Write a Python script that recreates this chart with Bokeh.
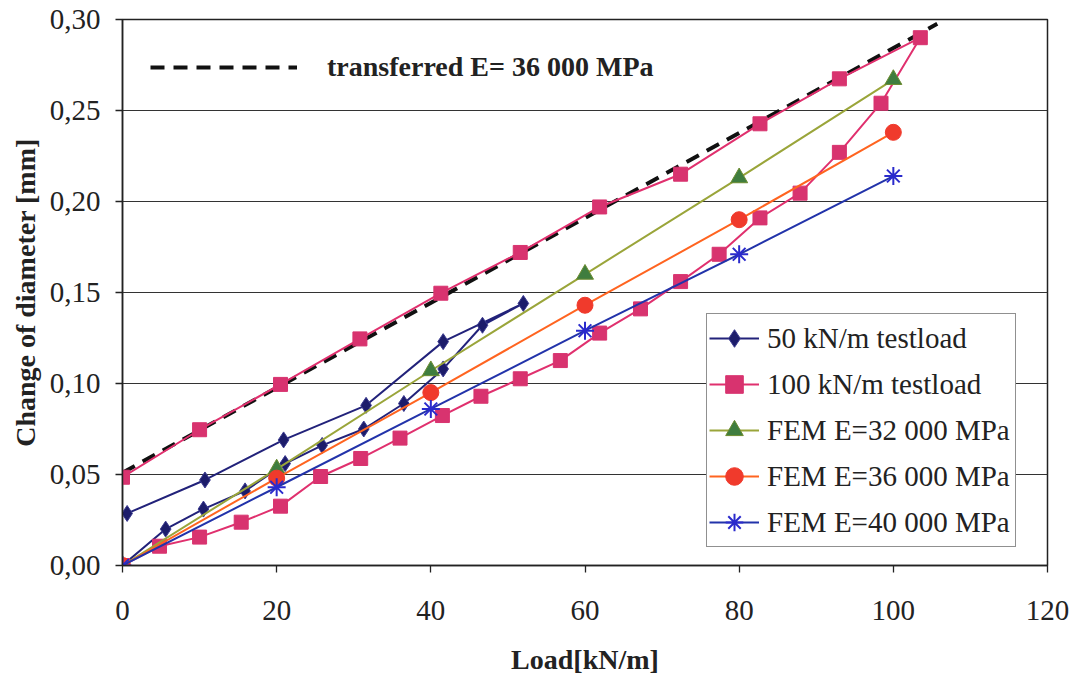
from bokeh.plotting import figure
from bokeh.models import (FixedTicker, CustomJSTickFormatter,
                          Legend, LegendItem, Range1d)
from bokeh.embed import file_html
from bokeh.resources import INLINE

# ---------------- data ----------------
t50_load = [0, 5.6, 10.5, 15.9, 21.1, 25.9, 31.3, 36.5, 41.6, 46.7, 52.0,
            41.6, 31.6, 20.9, 10.7, 0.6]
t50_diam = [0.000, 0.020, 0.031, 0.041, 0.056, 0.066, 0.075, 0.089, 0.108, 0.132, 0.144,
            0.123, 0.088, 0.069, 0.047, 0.0286]

t100_load = [0, 4.8, 10.0, 15.4, 20.5, 25.7, 30.9, 36.0, 41.5, 46.5, 51.6, 56.8, 61.9,
             67.2, 72.4, 77.4, 82.7, 87.9, 93.0, 98.4, 103.5,
             93.0, 82.7, 72.4, 61.9, 51.6, 41.3, 30.8, 20.5, 10.0, 0.0]
t100_diam = [0.000, 0.0106, 0.0156, 0.0238, 0.0326, 0.0489, 0.0588, 0.070, 0.0824, 0.093,
             0.1026, 0.1126, 0.1277, 0.141, 0.156, 0.171, 0.191, 0.2046, 0.227, 0.254, 0.290,
             0.2674, 0.2427, 0.215, 0.197, 0.172, 0.1496, 0.1245, 0.0995, 0.0746, 0.0485]

fem_load = [0, 20, 40, 60, 80, 100]
fem32_diam = [0.000, 0.053, 0.107, 0.160, 0.213, 0.267]
fem36_diam = [0.000, 0.048, 0.095, 0.143, 0.190, 0.238]
fem40_diam = [0.000, 0.043, 0.086, 0.129, 0.171, 0.214]

transf_load = [0.0, 105.7]
transf_diam = [0.051, 0.2976]

x_ticks = [0, 20, 40, 60, 80, 100, 120]
y_ticks = [0.0, 0.05, 0.10, 0.15, 0.20, 0.25, 0.30]

labels = ["50 kN/m testload", "100 kN/m testload", "FEM E=32 000 MPa",
          "FEM E=36 000 MPa", "FEM E=40 000 MPa"]
transf_label = "transferred E= 36 000 MPa"

FONT = "'Liberation Serif', 'Times New Roman', serif"
TXT = "#222222"

# ---------------- figure ----------------
W, H = 1072, 681
p = figure(width=W, height=H, output_backend="svg", toolbar_location=None,
           x_range=Range1d(0, 120), y_range=Range1d(0, 0.30),
           min_border_left=122, min_border_right=W - 1047, min_border_top=19,
           min_border_bottom=H - 565)
p.background_fill_color = "white"
p.border_fill_color = "white"
p.outline_line_color = "#222222"
p.outline_line_width = 1.5

p.xgrid.grid_line_color = None
p.ygrid.grid_line_color = "#333333"
p.ygrid.grid_line_width = 1.2

for ax in (p.xaxis[0], p.yaxis[0]):
    ax.axis_line_color = "#222222"
    ax.axis_line_width = 1.5
    ax.major_tick_line_color = "#222222"
    ax.major_tick_line_width = 1.3
    ax.major_tick_out = 7
    ax.major_tick_in = 0
    ax.minor_tick_line_color = None
    ax.major_label_text_font = FONT
    ax.major_label_text_font_size = "29px"
    ax.major_label_text_color = TXT
    ax.axis_label_text_font = FONT
    ax.axis_label_text_font_size = "28px"
    ax.axis_label_text_font_style = "bold"
    ax.axis_label_text_color = TXT

p.xaxis.ticker = FixedTicker(ticks=x_ticks)
p.yaxis.ticker = FixedTicker(ticks=y_ticks)
p.yaxis.formatter = CustomJSTickFormatter(code="return tick.toFixed(2).replace('.', ',');")
p.xaxis.axis_label = "Load[kN/m]"
p.yaxis.axis_label = "Change of diameter [mm]"
p.xaxis.major_label_standoff = 28
p.xaxis.axis_label_standoff = 21
p.yaxis.major_label_standoff = 15
p.yaxis.axis_label_standoff = 6

# transferred (dashed)
r_tr = p.line(transf_load, transf_diam, line_color="#111111", line_width=4,
              line_dash="14 9")

# 50 kN/m testload
l50 = p.line(t50_load, t50_diam, line_color="#22227a", line_width=2)
m50 = p.scatter(t50_load, t50_diam, marker="diamond", size=16, fill_color="#1c1c6a",
                line_color="#3a3a90", line_width=1)

# 100 kN/m testload
l100 = p.line(t100_load, t100_diam, line_color="#e0306e", line_width=2)
m100 = p.scatter(t100_load, t100_diam, marker="square", size=14, fill_color="#d8336f",
                 line_color="#d8336f")

# FEM 32000
l32 = p.line(fem_load, fem32_diam, line_color="#9aa53a", line_width=2)
m32 = p.scatter(fem_load, fem32_diam, marker="triangle", size=17, fill_color="#3f7d3f",
                line_color="#6c8c30", line_width=1)

# FEM 36000
l36 = p.line(fem_load, fem36_diam, line_color="#ff6420", line_width=2)
m36 = p.scatter(fem_load, fem36_diam, marker="circle", size=16, fill_color="#f03a2c",
                line_color="#f03a2c")

# FEM 40000
l40 = p.line(fem_load, fem40_diam, line_color="#2233aa", line_width=2)
m40 = p.scatter(fem_load, fem40_diam, marker="asterisk", size=18, line_color="#2a2acc",
                line_width=2)

legend = Legend(items=[
    LegendItem(label=labels[0], renderers=[l50, m50]),
    LegendItem(label=labels[1], renderers=[l100, m100]),
    LegendItem(label=labels[2], renderers=[l32, m32]),
    LegendItem(label=labels[3], renderers=[l36, m36]),
    LegendItem(label=labels[4], renderers=[l40, m40]),
], location=(584, 18))
legend.label_text_font = FONT
legend.label_text_font_size = "29px"
legend.label_text_color = TXT
legend.glyph_width = 50
legend.glyph_height = 44
legend.spacing = 2
legend.padding = 2
legend.margin = 0
legend.label_standoff = 8
legend.label_width = 246
legend.border_line_color = "#222222"
legend.border_line_width = 1.5
legend.background_fill_color = "white"
legend.background_fill_alpha = 1.0
p.add_layout(legend, "center")

leg2 = Legend(items=[LegendItem(label=transf_label, renderers=[r_tr])],
              location=(28, 482))
leg2.label_text_font = FONT
leg2.label_text_font_size = "28px"
leg2.label_text_font_style = "bold"
leg2.label_text_color = TXT
leg2.glyph_width = 147
leg2.glyph_height = 32
leg2.padding = 0
leg2.margin = 0
leg2.label_standoff = 30
leg2.border_line_alpha = 0
leg2.background_fill_alpha = 0
p.add_layout(leg2, "center")

open("out.html", "w").write(file_html(p, INLINE))
